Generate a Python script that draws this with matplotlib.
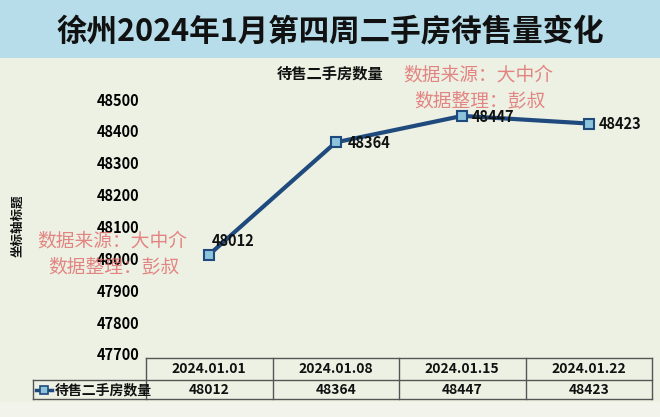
import matplotlib.pyplot as plt
import matplotlib.transforms as mtransforms
from matplotlib.patches import Rectangle
from matplotlib.lines import Line2D

plt.rcParams['font.family'] = ['Noto Sans CJK SC', 'DejaVu Sans']

# data
dates = ['2024.01.01', '2024.01.08', '2024.01.15', '2024.01.22']
counts = [48012, 48364, 48447, 48423]
series_name = '待售二手房数量'
yticks = [47700, 47800, 47900, 48000, 48100, 48200, 48300, 48400, 48500]

W, H = 660, 417
bg = '#edf1e3'
band = '#b6dde9'
line_c = '#1f4a7e'
mark_c = '#8cc4dc'
wm_c = '#e06a6a'

fig = plt.figure(figsize=(W / 100, H / 100), dpi=100, facecolor=bg)

# title band
fig.patches.append(Rectangle((0, 1 - 58 / H), 1, 58 / H, transform=fig.transFigure,
                             facecolor=band, edgecolor='none', zorder=0))
fig.patches.append(Rectangle((0, 0), 1, 15 / H, transform=fig.transFigure,
                             facecolor='#f2f4ec', edgecolor='none', zorder=0))
fig.text(0.5, 1 - 31 / H, '徐州2024年1月第四周二手房待售量变化', ha='center', va='center',
         fontsize=22, fontweight='bold', color='#111111')

left, right, top, bottom = 146, 652, 99, 354
ax = fig.add_axes([left / W, 1 - bottom / H, (right - left) / W, (bottom - top) / H])
ax.set_facecolor(bg)
x = list(range(len(dates)))
ax.plot(x, counts, color=line_c, lw=3, marker='s', ms=7, mfc=mark_c, mec=line_c, mew=1.5,
        solid_capstyle='round', zorder=3)
ax.set_xlim(-0.5, len(dates) - 0.5)
ax.set_ylim(yticks[0], yticks[-1])
ax.set_yticks(yticks)
ax.set_yticklabels([str(v) for v in yticks], fontsize=10.5, fontweight='bold')
ax.set_xticks([])
ax.tick_params(axis='y', length=0, pad=5)
for s in ax.spines.values():
    s.set_visible(False)

label_offsets = [(3, 14), (12, -1), (10, -1), (10, 0)]
for xi, v, off in zip(x, counts, label_offsets):
    ax.annotate(str(v), (xi, v), xytext=off, textcoords='offset pixels', ha='left',
                va='center', fontsize=10.5, fontweight='bold', color='#111111', zorder=4)

fig.text(330 / W, 1 - 74 / H, series_name, ha='center', va='center', fontsize=11,
         fontweight='bold', color='#111111')
fig.text(18 / W, 1 - 226 / H, '坐标轴标题', ha='center', va='center', rotation=90,
         fontsize=9, fontweight='bold', color='#111111')

# data table under the axis
trans = mtransforms.blended_transform_factory(ax.transData, ax.transAxes)
def yf(py):
    return (bottom - py) / (bottom - top)
y0, y1, y2 = yf(358), yf(380), yf(399)
lc = '#555555'
xl = (33 - left) / (right - left)
ax.add_line(Line2D([-0.5, len(dates) - 0.5], [y0, y0], transform=trans, color=lc, lw=1, clip_on=False))
for yy in (y1, y2):
    ax.add_line(Line2D([xl, 1], [yy, yy], transform=ax.transAxes, color=lc, lw=1, clip_on=False))
ax.add_line(Line2D([xl, xl], [y1, y2], transform=ax.transAxes, color=lc, lw=1, clip_on=False))
for b in range(len(dates) + 1):
    ax.add_line(Line2D([b - 0.5, b - 0.5], [y0, y2], transform=trans, color=lc, lw=1, clip_on=False))
for xi, d, v in zip(x, dates, counts):
    ax.text(xi, (y0 + y1) / 2, d, transform=trans, ha='center', va='center',
            fontsize=10, fontweight='bold', color='#111111')
    ax.text(xi, (y1 + y2) / 2, str(v), transform=trans, ha='center', va='center',
            fontsize=10, fontweight='bold', color='#111111')
fig.lines.append(Line2D([36 / W, 52 / W], [1 - 390 / H] * 2, transform=fig.transFigure,
                        color=line_c, lw=2.5))
fig.lines.append(Line2D([44 / W], [1 - 390 / H], transform=fig.transFigure, color=line_c,
                        marker='s', ms=6, mfc=mark_c, mec=line_c, mew=1.2))
fig.text(55 / W, 1 - 390 / H, series_name, ha='left', va='center', fontsize=10,
         fontweight='bold', color='#111111')

# watermarks (they sit over the tick labels in the original too)
for cx, cy in [(112, 241), (478, 75)]:
    fig.text(cx / W, 1 - cy / H, '数据来源：大中介', ha='center', va='center', fontsize=13.5,
             color=wm_c, alpha=0.8)
    fig.text((cx + 2) / W, 1 - (cy + 26) / H, '数据整理：彭叔', ha='center', va='center',
             fontsize=13.5, color=wm_c, alpha=0.8)

fig.savefig('out.png', dpi=100, facecolor=bg)
